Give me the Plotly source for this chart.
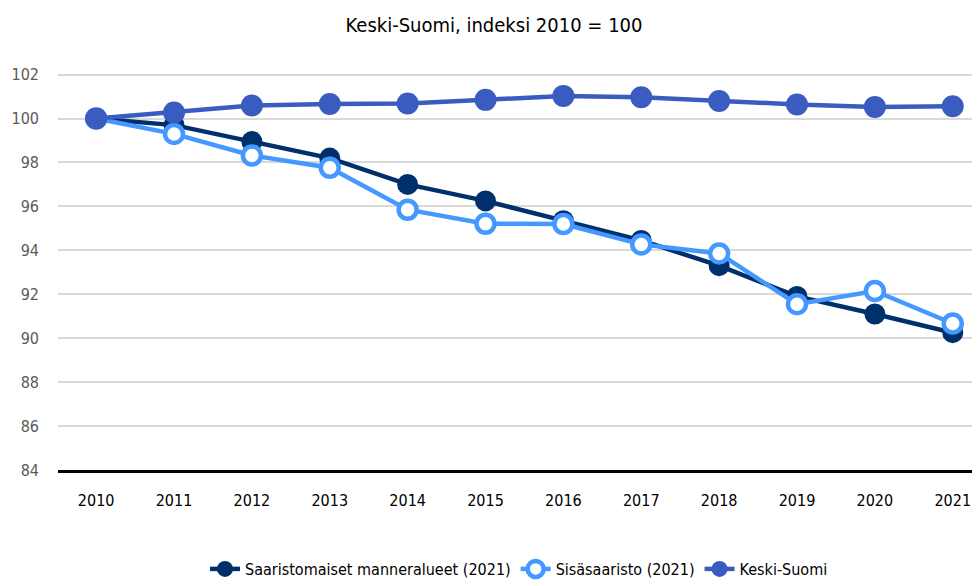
import plotly.graph_objects as go

years = list(range(2010, 2022))
saaristomaiset = [100, 99.7, 98.95, 98.2, 97.0, 96.25, 95.35, 94.45, 93.3, 91.9, 91.1, 90.25]
sisasaaristo = [100, 99.3, 98.32, 97.76, 95.85, 95.21, 95.2, 94.27, 93.86, 91.55, 92.15, 90.67]
keski_suomi = [100, 100.27, 100.59, 100.66, 100.68, 100.85, 101.03, 100.97, 100.8, 100.64, 100.53, 100.56]
y_ticks = list(range(84, 103, 2))

font_name = "DejaVu Sans Condensed, Liberation Sans Narrow, Roboto, sans-serif"


def fnt(size, color="#000000"):
    return dict(family=font_name, size=size, color=color)


def main():
    fig = go.Figure()
    fig.add_trace(go.Scatter(
        x=years, y=saaristomaiset, name="Saaristomaiset manneralueet (2021)",
        mode="lines+markers",
        line=dict(color="#00306b", width=4.5),
        marker=dict(size=21, color="#00306b"),
    ))
    fig.add_trace(go.Scatter(
        x=years, y=sisasaaristo, name="Sisäsaaristo (2021)",
        mode="lines+markers",
        line=dict(color="#4598ff", width=4.5),
        marker=dict(size=18, color="white", line=dict(color="#4598ff", width=4.5)),
    ))
    fig.add_trace(go.Scatter(
        x=years, y=keski_suomi, name="Keski-Suomi",
        mode="lines+markers",
        line=dict(color="#3a5bbf", width=4.5),
        marker=dict(size=22, color="#3a5bbf"),
    ))
    # page body adds an 8px offset, so the figure is drawn 8px smaller
    fig.update_layout(
        width=972,
        height=578,
        margin=dict(l=50, r=0, t=60, b=116),
        paper_bgcolor="white",
        plot_bgcolor="white",
        font=fnt(15),
        title=dict(text="Keski-Suomi, indeksi 2010 = 100", x=0.5, xanchor="center",
                   y=0.97, yanchor="middle", font=fnt(20)),
        showlegend=True,
        legend=dict(orientation="h", x=0.5, xanchor="center",
                    yref="container", y=0.0, yanchor="bottom",
                    font=fnt(16)),
        xaxis=dict(
            range=[2009.51, 2021.35],
            tickmode="array", tickvals=years, ticktext=[str(y) for y in years],
            showgrid=False, zeroline=False,
            showline=True, linecolor="#000000", linewidth=3,
            ticks="", ticklabelstandoff=14,
            tickfont=fnt(16),
        ),
        yaxis=dict(
            range=[84, 102.3],
            tickmode="array", tickvals=y_ticks,
            showgrid=True, gridcolor="#d9d9d9", gridwidth=1.5,
            zeroline=False, showline=False, ticks="",
            ticklabelstandoff=18,
            tickfont=fnt(16, "#595959"),
        ),
    )
    fig.write_html("out.html")


if __name__ == '__main__':
    main()
